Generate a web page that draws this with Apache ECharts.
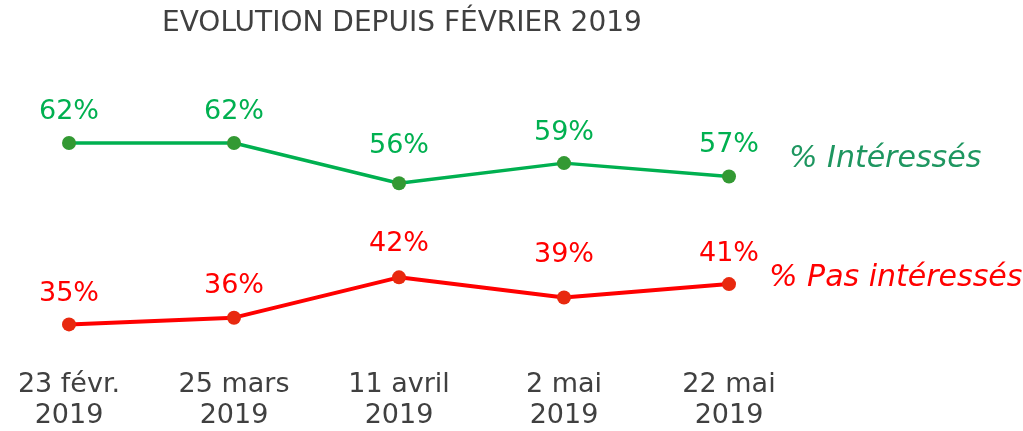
<!DOCTYPE html>
<html><head><meta charset="utf-8">
<script src="https://cdn.jsdelivr.net/npm/echarts@6/dist/echarts.min.js"></script>
<style>html,body{margin:0;padding:0;background:#fff}#c{width:1023px;height:431px}</style>
</head><body><div id="c"></div>
<script>
const categories = ['23 févr.\n2019', '25 mars\n2019', '11 avril\n2019', '2 mai\n2019', '22 mai\n2019'];
const interesses = [62, 62, 56, 59, 57];
const pasInteresses = [35, 36, 42, 39, 41];
const seriesNames = ['% Intéressés', '% Pas intéressés'];
const titleText = 'EVOLUTION DEPUIS FÉVRIER 2019';

// label distances above points (layout only)
const distInteresses = [10, 10, 17, 10, 11];
const distPas = [10, 11, 13, 22, 10];

const FONT = "'DejaVu Sans', Verdana, sans-serif";
const withDist = (vals, dists) => vals.map((v, i) => ({value: v, label: {distance: dists[i]}}));
const chart = echarts.init(document.getElementById('c'), null, {renderer: 'canvas'});
chart.setOption({
  animation: false,
  backgroundColor: '#fff',
  title: {
    text: titleText, left: 157, top: 5,
    textStyle: {fontFamily: FONT, fontSize: 28, fontWeight: 'normal', color: '#404040'}
  },
  grid: {left: 69, right: 294, top: 122.8, height: 236},
  xAxis: {
    type: 'category', data: categories, boundaryGap: false,
    axisLine: {show: false}, axisTick: {show: false}, splitLine: {show: false},
    axisLabel: {fontFamily: FONT, fontSize: 27, color: '#404040', lineHeight: 31, margin: 11}
  },
  yAxis: {type: 'value', min: 30, max: 65, show: false, splitLine: {show: false}},
  series: [
    {
      name: seriesNames[0], type: 'line', data: withDist(interesses, distInteresses),
      symbol: 'circle', symbolSize: 14,
      lineStyle: {color: '#00B050', width: 3.5},
      itemStyle: {color: '#339933'},
      label: {show: true, position: 'top', distance: 10, formatter: '{c}%',
        fontFamily: FONT, fontSize: 27, color: '#00B050'}
    },
    {
      name: seriesNames[1], type: 'line', data: withDist(pasInteresses, distPas),
      symbol: 'circle', symbolSize: 14,
      lineStyle: {color: '#FF0000', width: 4},
      itemStyle: {color: '#E8290F'},
      label: {show: true, position: 'top', distance: 10, formatter: '{c}%',
        fontFamily: FONT, fontSize: 27, color: '#FF0000'}
    }
  ],
  graphic: [
    {type: 'text', left: 789, top: 144, style: {text: seriesNames[0], fontFamily: FONT, fontSize: 30, fontStyle: 'italic', fill: '#1E9660'}},
    {type: 'text', left: 769, top: 263, style: {text: seriesNames[1], fontFamily: FONT, fontSize: 30, fontStyle: 'italic', fill: '#FF0000'}}
  ]
});
</script></body></html>
